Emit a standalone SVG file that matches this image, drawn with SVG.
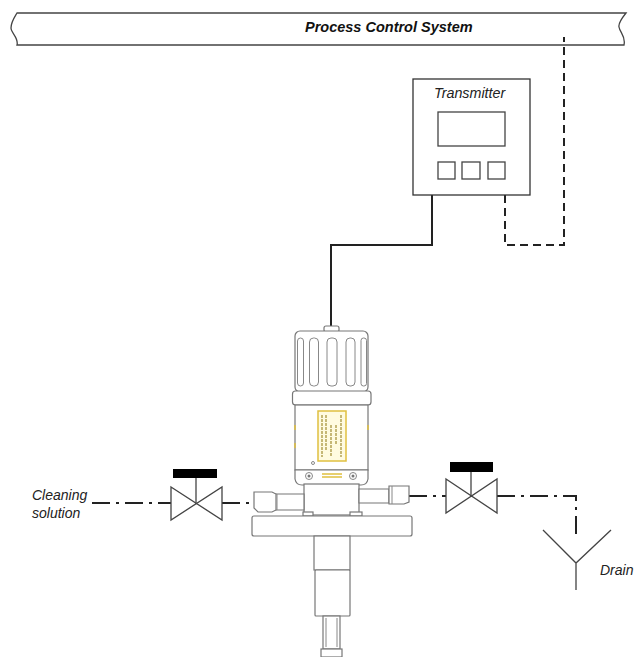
<svg xmlns="http://www.w3.org/2000/svg" width="634" height="657" viewBox="0 0 634 657">
<style>
text{font-family:"Liberation Sans",Arial,sans-serif;font-style:italic;font-size:14px;fill:#222}
.o{fill:none;stroke:#444;stroke-width:1.3}
.s{fill:#fff;stroke:#777;stroke-width:1.2}
.l{fill:none;stroke:#888;stroke-width:1}
.dd{fill:none;stroke:#222;stroke-width:2;stroke-dasharray:18 6 3 6}
.y{stroke:#e0c040;stroke-width:1.5;fill:none}
</style>
<rect width="634" height="657" fill="#fff"/>
<g id="process-control-system">
<path class="o" d="M17 13H626C622 18 618 23 619 27C620 33 626 36 624 45H17C19 38 11 33 11 28C11 22 14 18 17 13Z"/>
<text x="305" y="32" style="font-weight:bold;font-size:14.500px;fill:#111">Process Control System</text>
</g>
<g id="connectors">
<path d="M432 195V245H331V327" fill="none" stroke="#222" stroke-width="2"/>
<path d="M505 195V245H564V37" fill="none" stroke="#222" stroke-width="2" stroke-dasharray="8 5"/>
<path class="dd" d="M92 503H171"/>
<path class="dd" d="M222 503H254"/>
<path class="dd" d="M409 496H446"/>
<path class="dd" d="M497 496H576V539"/>
</g>
<g id="transmitter">
<rect x="413" y="79" width="117" height="116" fill="#fff" stroke="#333" stroke-width="1.3"/>
<rect class="o" x="438" y="112" width="67" height="34"/>
<rect class="o" x="438" y="162" width="17" height="17"/>
<rect class="o" x="462" y="162" width="18" height="17"/>
<rect class="o" x="488" y="162" width="17" height="17"/>
<text x="434" y="98" style="font-size:14.300px">Transmitter</text>
</g>
<g id="sensor">
<rect class="s" x="324" y="326" width="15" height="6" rx="2"/>
<rect class="s" x="295" y="331" width="73" height="61" rx="5"/>
<rect class="l" x="297.500" y="338" width="6" height="48" rx="3"/>
<rect class="l" x="309.500" y="338" width="9" height="48" rx="4"/>
<rect class="l" x="327" y="338" width="10" height="48" rx="4"/>
<rect class="l" x="346" y="338" width="9" height="48" rx="4"/>
<rect class="l" x="361" y="338" width="5.500" height="48" rx="2.500"/>
<rect class="s" x="292.500" y="391" width="78.500" height="14" rx="3"/>
<rect class="s" x="295" y="405" width="73" height="65"/>
<rect x="318" y="411" width="28" height="50" fill="#fffbe0" stroke="#e0c040" stroke-width="1.500"/>
<path fill="none" stroke="#a08c30" stroke-width="1.200" stroke-dasharray="3 1" d="M322 415V457M326 415V450M331 425V457M336 425V445M341 415V457"/>
<path class="y" d="M295 425V430M295 443V448M368 425V430"/>
<circle class="l" cx="313" cy="463" r="1.500"/>
<path class="s" d="M295 470H368V479Q367 485 361 485H302Q296 485 295 479Z"/>
<circle class="l" cx="309" cy="476" r="3.500"/><circle cx="309" cy="476" r="1.500" fill="#777"/>
<circle class="l" cx="353" cy="476" r="3.500"/><circle cx="353" cy="476" r="1.500" fill="#777"/>
<path class="y" d="M322 474H342M322 477H342"/>
<rect class="s" x="304" y="484" width="55" height="31"/>
<path class="s" d="M275 494H304V510H275Z"/>
<path class="s" d="M254 492H272L276 494V510L272 512H258L254 508Z"/>
<path class="s" d="M359 489H389V503H359Z"/>
<path class="s" d="M389 486H409V502L404 504H389Z"/>
<path class="l" d="M277 494V510M392 486V504"/>
<rect class="s" x="303" y="512" width="10" height="4"/>
<rect class="s" x="350" y="512" width="12" height="4"/>
<rect class="s" x="252" y="516" width="160" height="20" rx="2"/>
<rect class="s" x="314" y="536" width="36" height="34"/>
<rect class="s" x="315" y="570" width="35" height="46" rx="1"/>
<rect class="s" x="323" y="616" width="17" height="33"/>
<path class="l" d="M326 618V647M337 618V647"/>
<rect class="s" x="321" y="649" width="21" height="8"/>
</g>
<g id="valve-left">
<path class="o" d="M171 487L222 520V487L171 520Z" fill="#fff"/>
<path class="o" d="M196 478V503"/>
<rect x="173" y="469" width="44" height="9" fill="#000"/>
</g>
<g id="valve-right">
<path class="o" d="M446 479L497 513V479L446 513Z" fill="#fff"/>
<path class="o" d="M471 471V496"/>
<rect x="450" y="462" width="43" height="10" fill="#000"/>
</g>
<g id="drain">
<path class="o" d="M543 530L576 563L611 530M576 563V590"/>
<text x="600" y="575">Drain</text>
</g>
<g id="cleaning-solution">
<text x="32" y="500">Cleaning</text>
<text x="32" y="518">solution</text>
</g>
</svg>
